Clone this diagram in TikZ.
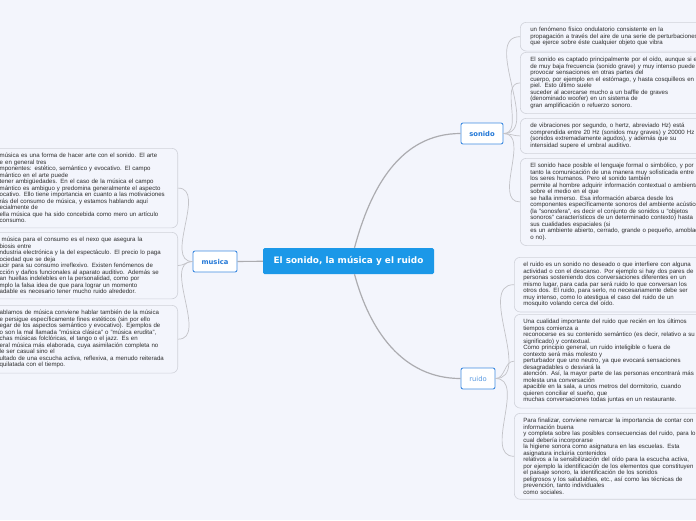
\documentclass[tikz,border=0pt]{standalone}
\usepackage{fontspec}
\setmainfont{Liberation Sans}
\newfontfamily\topicfont{DejaVu Sans}
\definecolor{bgc}{RGB}{243,245,252}
\definecolor{rootc}{RGB}{27,152,232}
\definecolor{topicc}{RGB}{64,140,225}
\definecolor{topict}{RGB}{35,120,215}
\definecolor{notec}{RGB}{208,210,218}
\definecolor{notet}{RGB}{45,45,45}
\definecolor{linkc}{RGB}{195,195,200}
\definecolor{rootlinkc}{RGB}{172,172,176}

\begin{document}
\begin{tikzpicture}[x=1pt,y=1pt,
  root/.style={fill=rootc, rounded corners=1.5pt, text=white, font=\topicfont\bfseries\fontsize{8.9}{10}\selectfont, minimum width=171pt, minimum height=26pt, inner sep=0pt},
  topic/.style={draw=topicc, line width=0.9pt, fill=white, rounded corners=2pt, text=topict, font=\topicfont\bfseries\fontsize{6.8}{8}\selectfont, minimum height=21pt, inner sep=0pt},
  note/.style={draw=notec, line width=0.6pt, rounded corners=6pt, align=left, text width=200pt, inner xsep=9pt, inner ysep=5pt, anchor=north west, text=notet, font=\fontsize{6.1}{6.5}\selectfont},
  noteleft/.style={note, text width=170pt, inner xsep=8pt, anchor=north east},
  link/.style={draw=linkc, line width=0.7pt},
  rootlink/.style={draw=rootlinkc, line width=1.2pt}]
\fill[bgc] (0,0) rectangle (696,-520);
\useasboundingbox (0,0) rectangle (696,-520);

\node[root] (root) at (348.5,-261) {El sonido, la música y el ruido};
\node[topic, minimum width=44pt] (musica) at (215,-261.5) {musica};
\node[topic, minimum width=42pt] (sonido) at (482,-133.5) {sonido};
\node[topic, minimum width=34pt, text=topict!75, font=\topicfont\fontsize{6.8}{8}\selectfont] (ruido) at (478,-378.5) {ruido};

\node[note, inner xsep=10pt] (S1) at (520,-22) {un fenómeno físico ondulatorio consistente en la\\propagación a través del aire de una serie de perturbaciones\\que ejerce sobre éste cualquier objeto que vibra};
\node[note, inner xsep=10pt] (S2) at (520,-52) {El sonido es captado principalmente por el oído, aunque si es\\de muy baja frecuencia (sonido grave) y muy intenso puede\\provocar sensaciones en otras partes del\\cuerpo, por ejemplo en el estómago, y hasta cosquilleos en la\\piel. Esto último suele\\suceder al acercarse mucho a un baffle de graves\\(denominado woofer) en un sistema de\\gran amplificación o refuerzo sonoro.};
\node[note, inner xsep=10pt] (S3) at (520,-118) {de vibraciones por segundo, o hertz, abreviado Hz) está\\comprendida entre 20 Hz (sonidos muy graves) y 20000 Hz\\(sonidos extremadamente agudos), y además que su\\intensidad supere el umbral auditivo.};
\node[note, inner xsep=10pt] (S4) at (520,-158) {El sonido hace posible el lenguaje formal o simbólico, y por\\tanto la comunicación de una manera muy sofisticada entre\\los seres humanos. Pero el sonido también\\permite al hombre adquirir información contextual o ambiental\\sobre el medio en el que\\se halla inmerso. Esa información abarca desde los\\componentes específicamente sonoros del ambiente acústico\\(la "sonosfera", es decir el conjunto de sonidos u "objetos\\sonoros" característicos de un determinado contexto) hasta\\sus cualidades espaciales (si\\es un ambiente abierto, cerrado, grande o pequeño, amoblado\\o no).};

\node[note] (R1) at (514,-257) {el ruido es un sonido no deseado o que interfiere con alguna\\actividad o con el descanso. Por ejemplo si hay dos pares de\\personas sosteniendo dos conversaciones diferentes en un\\mismo lugar, para cada par será ruido lo que conversan los\\otros dos. El ruido, para serlo, no necesariamente debe ser\\muy intenso, como lo atestigua el caso del ruido de un\\mosquito volando cerca del oído.};
\node[note] (R2) at (514,-314) {Una cualidad importante del ruido que recién en los últimos\\tiempos comienza a\\reconocerse es su contenido semántico (es decir, relativo a su\\significado) y contextual.\\Como principio general, un ruido inteligible o fuera de\\contexto será más molesto y\\perturbador que uno neutro, ya que evocará sensaciones\\desagradables o desviará la\\atención. Así, la mayor parte de las personas encontrará más\\molesta una conversación\\apacible en la sala, a unos metros del dormitorio, cuando\\quieren conciliar el sueño, que\\muchas conversaciones todas juntas en un restaurante.};
\node[note] (R3) at (514,-413) {Para finalizar, conviene remarcar la importancia de contar con\\información buena\\y completa sobre las posibles consecuencias del ruido, para lo\\cual debería incorporarse\\la higiene sonora como asignatura en las escuelas. Esta\\asignatura incluiría contenidos\\relativos a la sensibilización del oído para la escucha activa,\\por ejemplo la identificación de los elementos que constituyen\\el paisaje sonoro, la identificación de los sonidos\\peligrosos y los saludables, etc., así como las técnicas de\\prevención, tanto individuales\\como sociales.};

\node[noteleft] (M1) at (178,-148) {música es una forma de hacer arte con el sonido. El arte\\e en general tres\\mponentes: estético, semántico y evocativo. El campo\\mántico en el arte puede\\tener ambigüedades. En el caso de la música el campo\\mántico es ambiguo y predomina generalmente el aspecto\\ocativo. Ello tiene importancia en cuanto a las motivaciones\\rás del consumo de música, y estamos hablando aquí\\ecialmente de\\ella música que ha sido concebida como mero un artículo\\consumo.};
\node[noteleft] (M2) at (178,-232) {\ música para el consumo es el nexo que asegura la\\biosis entre\\ndustria electrónica y la del espectáculo. El precio lo paga\\ociedad que se deja\\ucir para su consumo irreflexivo. Existen fenómenos de\\cción y daños funcionales al aparato auditivo. Además se\\an huellas indelebles en la personalidad, como por\\mplo la falsa idea de que para lograr un momento\\adable es necesario tener mucho ruido alrededor.};
\node[noteleft] (M3) at (178,-305) {ablamos de música conviene hablar también de la música\\e persigue específicamente fines estéticos (sin por ello\\egar de los aspectos semántico y evocativo). Ejemplos de\\o son la mal llamada "música clásica" o "música erudita",\\chas músicas folclóricas, el tango o el jazz. Es en\\eral música más elaborada, cuya asimilación completa no\\le ser casual sino el\\ultado de una escucha activa, reflexiva, a menudo reiterada\\quilatada con el tiempo.};

\draw[rootlink] (musica) -- (root);
\draw[rootlink] ([xshift=6pt]root.north) to[out=75,in=180] (sonido.west);
\draw[rootlink] ([xshift=6pt]root.south) to[out=-75,in=180] (ruido.west);
\draw[link] (sonido.east) to[out=0,in=180] (S1.west);
\draw[link] (sonido.east) to[out=0,in=180] (S2.west);
\draw[link] (sonido.east) to[out=0,in=180] (S3.west);
\draw[link] (sonido.east) to[out=0,in=180] (S4.west);
\draw[link] (ruido.east) to[out=0,in=180] (R1.west);
\draw[link] (ruido.east) to[out=0,in=180] (R2.west);
\draw[link] (ruido.east) to[out=0,in=180] (R3.west);
\draw[link] (musica.west) to[out=180,in=0] (M1.east);
\draw[link] (musica.west) to[out=180,in=0] (M2.east);
\draw[link] (musica.west) to[out=180,in=0] (M3.east);
\end{tikzpicture}
\end{document}
